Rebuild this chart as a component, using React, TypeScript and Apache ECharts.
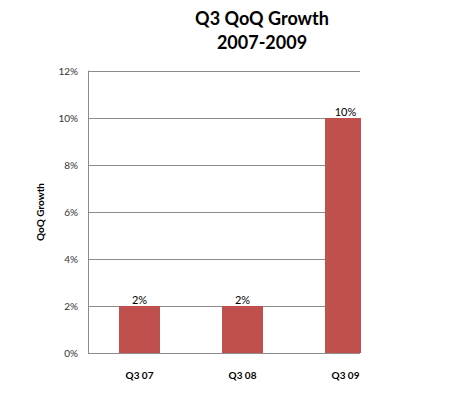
import React, { useEffect, useRef } from "react";
import * as echarts from "echarts";

const categories = ["Q3 07", "Q3 08", "Q3 09"];
const growth = [0.02, 0.02, 0.10];
const yTicks = { min: 0, max: 0.12, interval: 0.02 };
const titleLines = ["Q3 QoQ Growth", "2007-2009"];
const yName = "QoQ Growth";

const FONT = "Lato, 'Open Sans', sans-serif";

export default function App() {
  const ref = useRef<HTMLDivElement>(null);
  useEffect(() => {
    if (!ref.current) return;
    const chart = echarts.init(ref.current, undefined, { renderer: "svg" });
    const pct = (v: number) => `${Math.round(v * 100)}%`;
    chart.setOption({
      animation: false,
      backgroundColor: "#ffffff",
      title: {
        text: titleLines.join("\n"),
        left: 257,
        textAlign: "center",
        top: 1,
        textStyle: {
          fontFamily: FONT,
          fontSize: 18,
          fontWeight: "bold",
          color: "#000",
          lineHeight: 24,
        },
      },
      grid: [
        { left: 88, width: 272, top: 71, height: 282, containLabel: false },
        { left: 88, width: 309, top: 71, height: 282, containLabel: false },
      ],
      xAxis: [
        {
          gridIndex: 0,
          type: "value",
          min: 0,
          max: 1,
          show: false,
        },
        {
          gridIndex: 1,
          type: "category",
          data: categories,
          axisLine: { show: false },
          axisTick: { show: false },
          axisLabel: {
            fontFamily: FONT,
            fontSize: 10,
            fontWeight: "bold",
            color: "#000",
            margin: 17,
          },
        },
      ],
      yAxis: [
        {
          gridIndex: 0,
          type: "value",
          min: yTicks.min,
          max: yTicks.max,
          interval: yTicks.interval,
          name: yName,
          nameLocation: "middle",
          nameGap: 43,
          nameTextStyle: {
            fontFamily: FONT,
            fontSize: 10,
            fontWeight: "bold",
            color: "#000",
          },
          axisLine: { show: true, lineStyle: { color: "#8c8c8c", width: 1 } },
          axisTick: { show: false },
          axisLabel: {
            formatter: pct,
            fontFamily: FONT,
            fontSize: 10,
            color: "#333",
            margin: 10,
          },
          splitLine: { show: true, lineStyle: { color: "#8c8c8c", width: 1 } },
        },
        {
          gridIndex: 1,
          type: "value",
          min: yTicks.min,
          max: yTicks.max,
          show: false,
          splitLine: { show: false },
        },
      ],
      series: [
        {
          type: "bar",
          xAxisIndex: 1,
          yAxisIndex: 1,
          data: growth,
          barWidth: 41,
          itemStyle: { color: "#C0504D" },
          label: {
            show: true,
            position: "top",
            distance: 1,
            formatter: (p: any) => pct(p.value),
            fontFamily: FONT,
            fontSize: 11,
            color: "#000",
          },
          z: 3,
        },
      ],
      graphic: [
        {
          type: "rect",
          z: 100,
          shape: { x: 361, y: 110, width: 12, height: 244 },
          style: { fill: "#ffffff" },
        },
      ],
    });
    return () => chart.dispose();
  }, []);
  return <div ref={ref} style={{ width: 450, height: 394, position: "absolute", left: 0, top: 0 }} />;
}
